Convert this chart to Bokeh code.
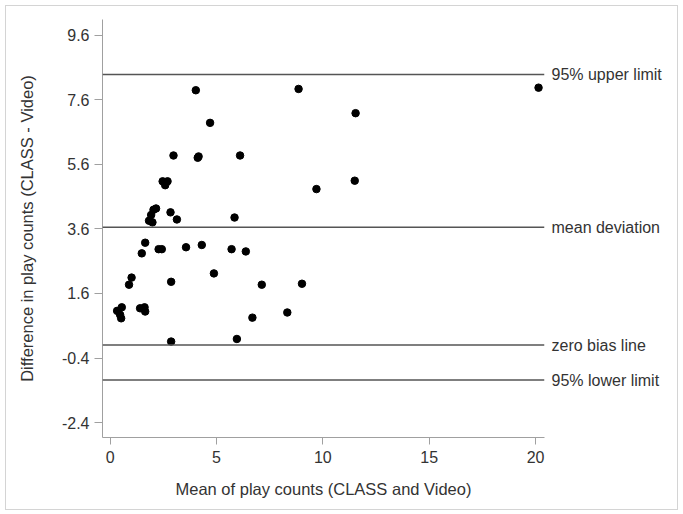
from bokeh.plotting import figure
from bokeh.models import Span, FixedTicker, Range1d, LinearAxis
from bokeh.embed import file_html
from bokeh.resources import INLINE

# Data
mean_counts = [4.03, 4.70, 2.98, 4.12, 4.16, 6.11,
               2.47, 2.70, 2.59,
               2.16, 2.04, 1.93, 1.83, 1.99,
               2.84, 3.14, 5.85, 1.65, 1.49, 2.28, 2.43, 3.57, 4.31, 5.71, 6.38,
               4.88, 1.01, 0.89, 2.87, 7.13,
               0.33, 0.55, 0.52, 0.47,
               1.41, 1.62, 1.65,
               6.69, 8.33, 2.87, 5.96,
               8.86, 11.54, 9.70, 11.50, 9.02, 20.14]
diff_counts = [7.89, 6.88, 5.87, 5.80, 5.84, 5.87,
               5.07, 5.07, 4.95,
               4.23, 4.19, 4.03, 3.85, 3.80,
               4.11, 3.89, 3.95, 3.17, 2.84, 2.97, 2.97, 3.03, 3.10, 2.97, 2.90,
               2.22, 2.09, 1.87, 1.96, 1.87,
               1.06, 1.17, 0.83, 0.94,
               1.14, 1.17, 1.04,
               0.85, 1.01, 0.11, 0.19,
               7.93, 7.18, 4.83, 5.09, 1.90, 7.97]

ref_values = [8.38, 3.65, 0.0, -1.08]
ref_labels = ["95% upper limit", "mean deviation", "zero bias line", "95% lower limit"]

x_ticks = [0, 5, 10, 15, 20]
y_ticks = [-2.4, -0.4, 1.6, 3.6, 5.6, 7.6, 9.6]
y_tick_labels = ["-2.4", "-0.4", "1.6", "3.6", "5.6", "7.6", "9.6"]

FONT = "Liberation Sans"
TXT = "#333333"
AX = "#a0a0a0"

p = figure(width=673, height=505, output_backend="svg", toolbar_location=None,
           x_range=Range1d(-0.357, 20.42), y_range=Range1d(-2.86, 10.08),
           min_border_left=96, min_border_top=13, min_border_right=135,
           min_border_bottom=74)
p.styles = {"border": "1px solid #d4d4d4", "margin-left": "5px", "margin-top": "5px"}
p.outline_line_color = None
p.xgrid.grid_line_color = None
p.ygrid.grid_line_color = None
p.background_fill_color = "white"
p.border_fill_color = "white"

for ax in (p.xaxis[0], p.yaxis[0]):
    ax.axis_line_color = AX
    ax.major_tick_line_color = AX
    ax.minor_tick_line_color = None
    ax.major_tick_in = 0
    ax.major_label_text_font = FONT
    ax.major_label_text_font_size = "16px"
    ax.major_label_text_color = TXT
    ax.axis_label_text_font = FONT
    ax.axis_label_text_font_size = "16.5px"
    ax.axis_label_text_font_style = "normal"
    ax.axis_label_text_color = TXT

p.xaxis.ticker = FixedTicker(ticks=x_ticks)
p.xaxis.major_tick_out = 7
p.xaxis.major_label_standoff = 6
p.xaxis.axis_label = "Mean of play counts (CLASS and Video)"
p.xaxis.axis_label_standoff = 14

p.yaxis.ticker = FixedTicker(ticks=y_ticks)
p.yaxis.major_label_overrides = {t: s for t, s in zip(y_ticks, y_tick_labels)}
p.yaxis.major_tick_out = 8
p.yaxis.major_label_standoff = 5
p.yaxis.axis_label = "Difference in play counts (CLASS - Video)"
p.yaxis.axis_label_standoff = 23

# reference lines
for v in ref_values:
    p.add_layout(Span(location=v, dimension="width", line_color="#555555", line_width=1.5))

# labels of the reference lines, drawn as a right-hand axis
rax = LinearAxis(ticker=FixedTicker(ticks=ref_values),
                 major_label_overrides={v: s for v, s in zip(ref_values, ref_labels)})
rax.axis_line_color = None
rax.major_tick_line_color = None
rax.minor_tick_line_color = None
rax.major_tick_in = 0
rax.major_tick_out = 0
rax.major_label_standoff = 7
rax.major_label_text_font = FONT
rax.major_label_text_font_size = "16px"
rax.major_label_text_color = TXT
p.add_layout(rax, "right")

p.scatter(mean_counts, diff_counts, size=7.5, color="black", line_color="black")

open("out.html", "w").write(file_html(p, INLINE))
